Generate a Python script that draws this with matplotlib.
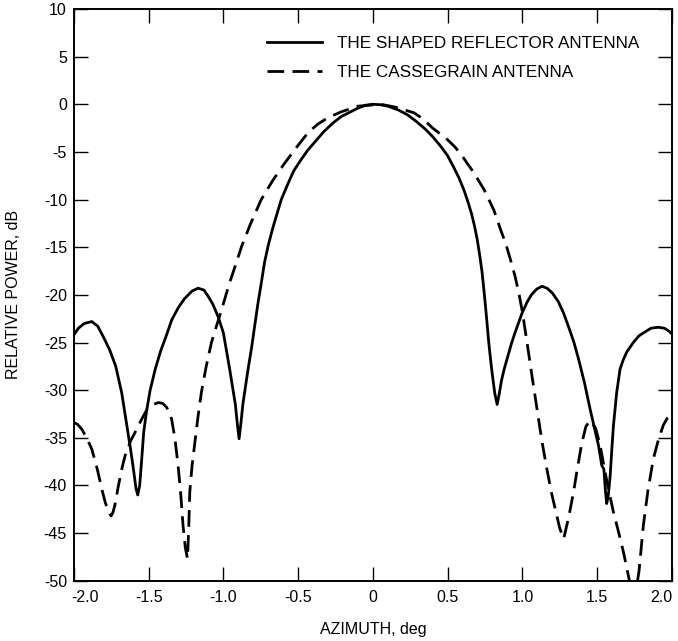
import matplotlib
matplotlib.use("Agg")
import matplotlib.pyplot as plt
import matplotlib.transforms as mtransforms

# azimuth (deg) and relative power (dB)
shaped_az = [-2.0, -1.97, -1.93, -1.88, -1.84, -1.80, -1.76, -1.72, -1.68, -1.645,
             -1.62, -1.60, -1.585, -1.573, -1.56, -1.55, -1.533, -1.515, -1.49, -1.456,
             -1.42, -1.38, -1.345, -1.30, -1.26, -1.21, -1.169, -1.13, -1.10, -1.07,
             -1.035, -1.0, -0.958, -0.92, -0.905, -0.895, -0.883, -0.87, -0.835, -0.813,
             -0.79, -0.77, -0.745, -0.725, -0.70, -0.67, -0.64, -0.613, -0.57, -0.53,
             -0.48, -0.435, -0.38, -0.33, -0.27, -0.213, -0.15, -0.10, -0.05, 0.0,
             0.05, 0.10, 0.17, 0.231, 0.29, 0.35, 0.40, 0.453, 0.50, 0.54,
             0.575, 0.609, 0.635, 0.66, 0.68, 0.698, 0.715, 0.73, 0.742, 0.755,
             0.775, 0.79, 0.80, 0.815, 0.831, 0.845, 0.86, 0.878, 0.898, 0.925,
             0.95, 0.975, 0.998, 1.03, 1.06, 1.095, 1.131, 1.165, 1.20, 1.24,
             1.275, 1.31, 1.345, 1.375, 1.415, 1.453, 1.485, 1.509, 1.531, 1.545,
             1.555, 1.564, 1.575, 1.587, 1.597, 1.609, 1.631, 1.653, 1.675, 1.698,
             1.742, 1.78, 1.809, 1.86, 1.909, 1.95, 1.98, 2.0]
shaped_db = [-24.2, -23.5, -23.0, -22.8, -23.3, -24.5, -25.8, -27.5, -30.3, -33.8,
             -36.3, -38.5, -40.3, -41.0, -40.0, -38.0, -34.4, -32.3, -30.0, -27.8,
             -25.9, -24.2, -22.6, -21.3, -20.4, -19.6, -19.3, -19.5, -20.2, -21.0,
             -22.3, -24.0, -27.8, -31.5, -33.8, -35.1, -33.5, -31.5, -27.8, -25.7,
             -23.2, -21.0, -18.6, -16.6, -14.8, -13.0, -11.4, -10.0, -8.4, -7.0,
             -5.8, -4.8, -3.8, -2.9, -2.0, -1.3, -0.8, -0.4, -0.1, 0.0,
             -0.05, -0.2, -0.6, -1.1, -1.8, -2.6, -3.4, -4.4, -5.4, -6.6,
             -7.7, -9.0, -10.2, -11.5, -12.8, -14.2, -15.9, -17.6, -19.4, -21.5,
             -25.0, -27.2, -28.5, -30.3, -31.5, -30.4, -29.0, -27.8, -26.7, -25.2,
             -24.0, -22.9, -21.9, -20.8, -20.0, -19.4, -19.1, -19.3, -19.8, -20.7,
             -21.9, -23.4, -25.0, -26.7, -29.2, -32.0, -34.2, -35.8, -37.9, -38.3,
             -40.5, -41.9, -41.0, -39.0, -36.5, -33.7, -30.2, -27.8, -26.8, -26.0,
             -25.0, -24.3, -24.0, -23.5, -23.4, -23.5, -23.8, -24.1]

cass_az = [-2.0, -1.975, -1.947, -1.915, -1.88, -1.845, -1.813, -1.79, -1.765, -1.751,
           -1.738, -1.725, -1.702, -1.68, -1.658, -1.62, -1.58, -1.545, -1.51, -1.47,
           -1.433, -1.405, -1.38, -1.36, -1.347, -1.325, -1.303, -1.285, -1.27, -1.255,
           -1.24, -1.232, -1.225, -1.21, -1.191, -1.17, -1.147, -1.115, -1.08, -1.045,
           -1.013, -0.96, -0.913, -0.88, -0.82, -0.747, -0.67, -0.591, -0.51, -0.435,
           -0.37, -0.30, -0.213, -0.10, 0.053, 0.15, 0.276, 0.34, 0.40, 0.498,
           0.55, 0.60, 0.676, 0.745, 0.809, 0.853, 0.89, 0.92, 0.95, 0.976,
           1.0, 1.031, 1.065, 1.098, 1.13, 1.164, 1.195, 1.22, 1.25, 1.276,
           1.31, 1.342, 1.37, 1.398, 1.425, 1.453, 1.49, 1.52, 1.553, 1.58,
           1.609, 1.645, 1.676, 1.72, 1.75, 1.78, 1.809, 1.84, 1.876, 1.91,
           1.942, 1.97, 2.0]
cass_db = [-33.4, -33.6, -34.1, -35.0, -36.2, -38.2, -40.4, -41.8, -42.9, -43.2,
           -42.8, -42.0, -40.0, -38.3, -36.9, -35.3, -34.1, -33.0, -32.0, -31.5,
           -31.3, -31.4, -31.8, -32.4, -33.0, -35.0, -37.9, -41.0, -44.2, -46.5,
           -47.7, -44.5, -40.7, -38.0, -35.5, -32.8, -30.2, -27.5, -25.0, -23.2,
           -21.6, -18.8, -16.6, -15.0, -12.6, -10.0, -8.0, -6.2, -4.5, -3.0,
           -2.1, -1.4, -0.8, -0.2, 0.0, -0.3, -0.9, -1.6, -2.5, -3.7,
           -4.5, -5.5, -7.2, -9.0, -11.1, -13.1, -14.7, -16.3, -18.0, -19.8,
           -21.8, -25.0, -28.6, -32.0, -35.3, -38.3, -40.8, -42.5, -44.5, -45.6,
           -43.3, -40.7, -38.0, -35.5, -33.8, -33.2, -34.0, -35.8, -38.6, -40.7,
           -42.8, -45.0, -47.0, -50.3, -52.0, -49.0, -44.2, -40.5, -37.2, -35.2,
           -33.7, -32.9, -32.3]

x_ticks = [-2.0, -1.5, -1.0, -0.5, 0.0, 0.5, 1.0, 1.5, 2.0]
x_labels = ["-2.0", "-1.5", "-1.0", "-0.5", "0", "0.5", "1.0", "1.5", "2.0"]
y_ticks = list(range(-50, 11, 5))

plt.rcParams["font.family"] = ["Liberation Sans", "DejaVu Sans"]
plt.rcParams["axes.unicode_minus"] = False

fig = plt.figure(figsize=(6.78, 6.41), dpi=100)
ax = fig.add_axes([0.109, 0.094, 0.882, 0.892])

ax.plot(shaped_az, shaped_db, color="black", lw=2.0, solid_joinstyle="round",
        label="THE SHAPED REFLECTOR ANTENNA")
ax.plot(cass_az, cass_db, color="black", lw=2.0, dashes=(6, 3),
        label="THE CASSEGRAIN ANTENNA")

ax.set_xlim(-2.0, 2.0)
ax.set_ylim(-50, 10)
ax.set_xticks(x_ticks)
ax.set_xticklabels(x_labels)
ax.set_yticks(y_ticks)
ax.tick_params(direction="in", length=10, width=1.0, top=True, right=True,
               labelsize=11.5, pad=7)
ax.tick_params(axis="y", pad=5)
for sp in ax.spines.values():
    sp.set_linewidth(1.4)

# nudge the end labels inward like the original
lbls = ax.get_xticklabels()
lbls[0].set_transform(lbls[0].get_transform() + mtransforms.ScaledTranslation(0.11, 0, fig.dpi_scale_trans))
lbls[-1].set_transform(lbls[-1].get_transform() + mtransforms.ScaledTranslation(-0.11, 0, fig.dpi_scale_trans))

ax.set_xlabel("AZIMUTH, deg", fontsize=11.5)
ax.set_ylabel("RELATIVE POWER, dB", fontsize=11.5)
ax.xaxis.set_label_coords(0.5, -0.072)
ax.yaxis.set_label_coords(-0.088, 0.5)

ax.legend(loc="upper left", bbox_to_anchor=(0.3227, 0.953), frameon=False,
          fontsize=12.3, handlelength=3.2, handletextpad=0.88, labelspacing=0.82,
          borderpad=0, borderaxespad=0)

fig.savefig("out.png", dpi=100)
